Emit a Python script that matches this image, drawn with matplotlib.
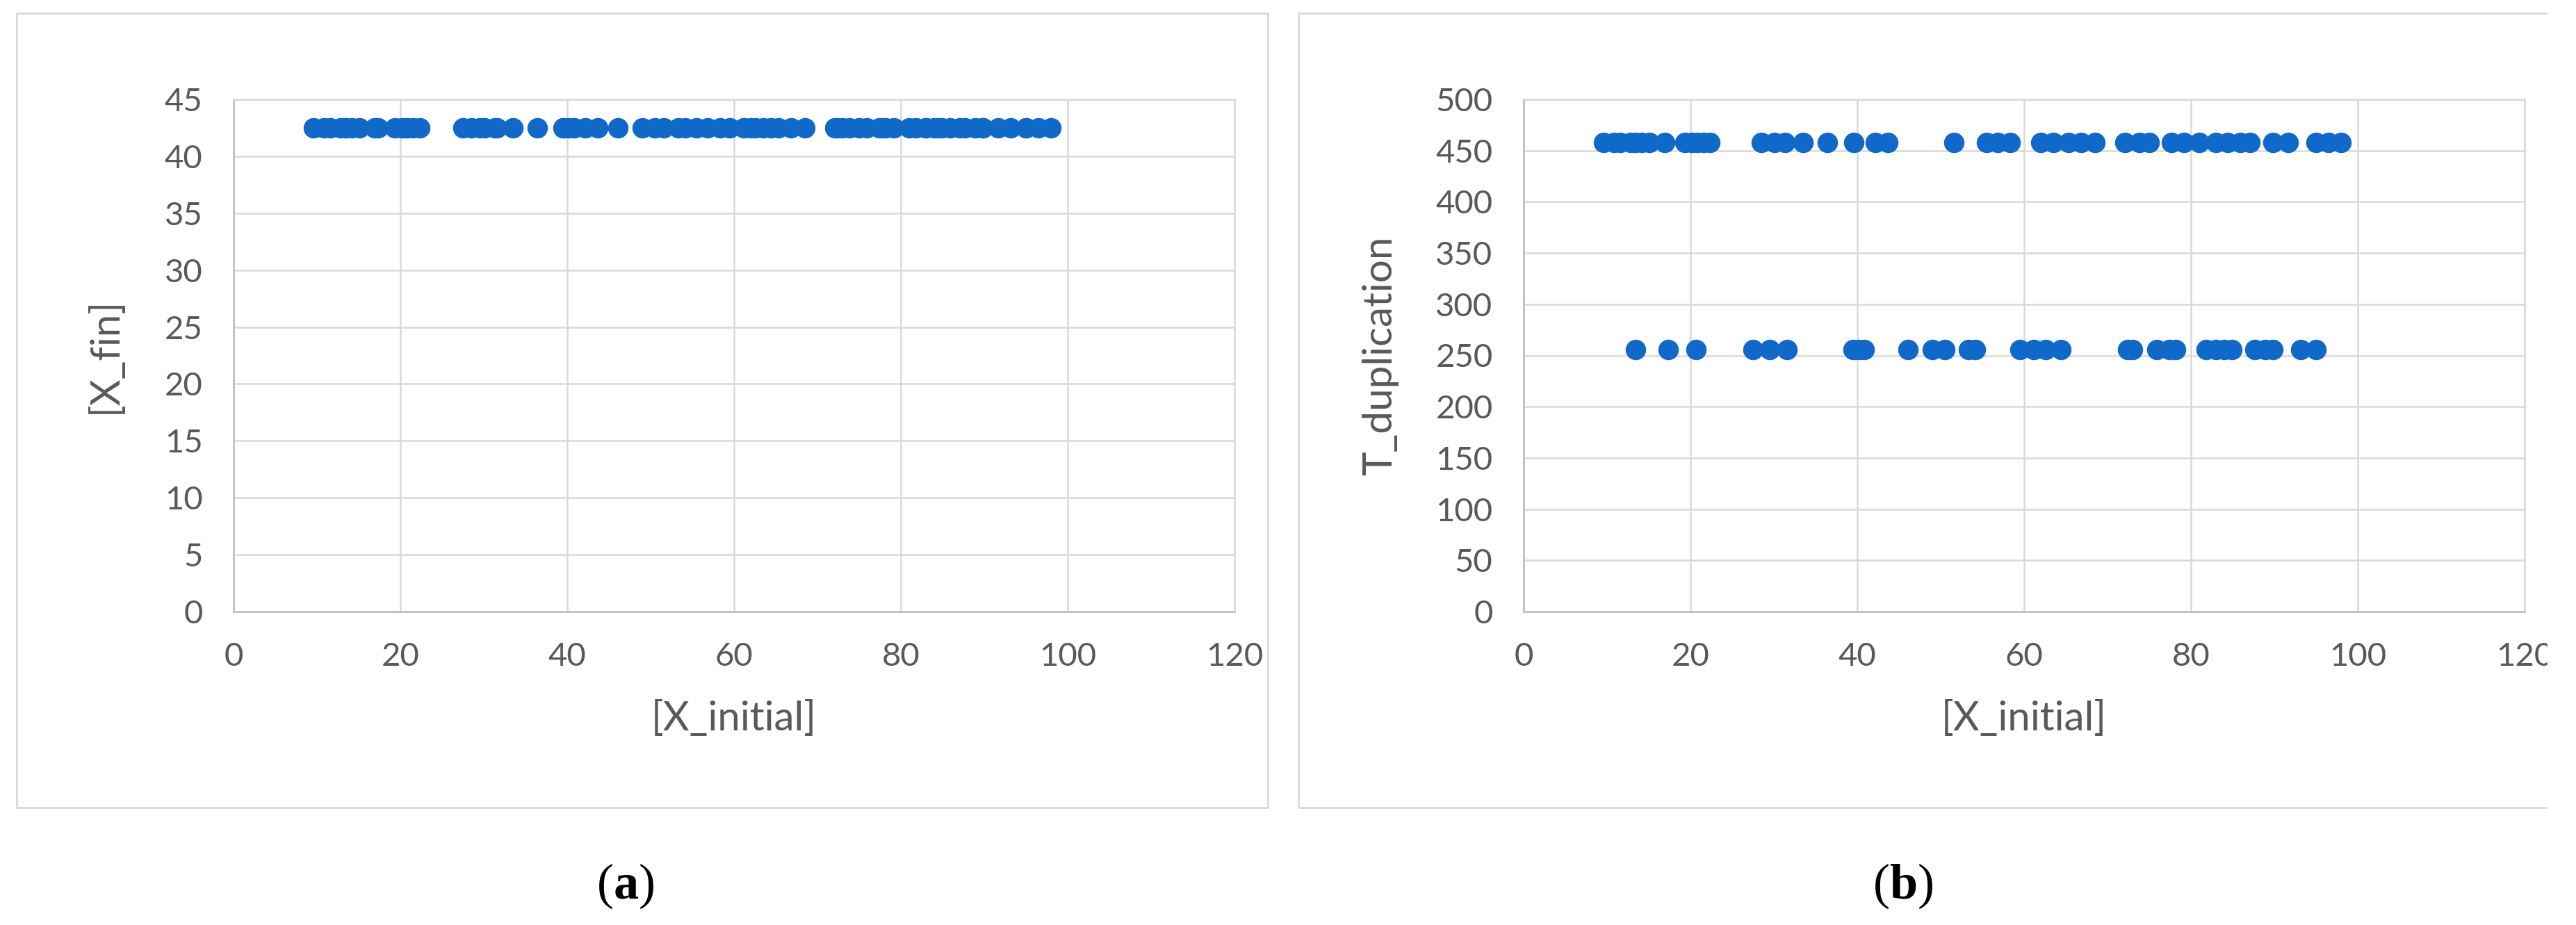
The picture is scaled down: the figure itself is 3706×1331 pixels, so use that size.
"""Two Excel-style scatter panels: (a) X_fin vs X_initial, (b) T_duplication vs X_initial."""
import numpy as np
import matplotlib
matplotlib.use("Agg")
import matplotlib.pyplot as plt
from matplotlib.patches import Rectangle

# values
x_init_t_high = [9.6, 10.8, 11.6, 12.8, 13.4, 14.2, 15.1, 16.9, 19.3, 20.2, 20.8, 21.6, 22.3,
                 28.5, 30.1, 31.3, 33.5, 36.4, 39.6, 42.2, 43.7, 51.6, 55.5, 56.8, 58.3,
                 62.0, 63.5, 65.3, 66.8, 68.5, 72.1, 73.8, 75.0, 77.7, 79.2, 81.0, 83.0,
                 84.4, 85.9, 87.1, 89.8, 91.7, 95.0, 96.5, 98.0]
x_init_t_low = [13.4, 17.3, 20.7, 27.5, 29.5, 31.6, 39.5, 40.2, 40.8, 46.1, 49.0, 50.5,
                53.3, 54.2, 59.5, 61.2, 62.6, 64.4, 72.4, 73.0, 75.9, 77.4, 78.2, 81.8,
                83.0, 84.0, 84.9, 87.7, 88.9, 89.8, 93.2, 95.0]
t_dup_high = 458
t_dup_low = 256
x_fin_level = 42.5

x_initial = sorted(x_init_t_high + x_init_t_low)
x_fin = [x_fin_level] * len(x_initial)

xticks = list(range(0, 121, 20))
yticks_a = list(range(0, 46, 5))
yticks_b = list(range(0, 501, 50))

BLUE = "#1068c8"
GRID = "#d9d9d9"
TXT = "#595959"

plt.rcParams["font.family"] = ["Lato", "DejaVu Sans"]
plt.rcParams["mathtext.fontset"] = "custom"
plt.rcParams["mathtext.rm"] = "Liberation Serif"
plt.rcParams["mathtext.bf"] = "Liberation Serif:bold"

W, H = 3706, 1331
fig = plt.figure(figsize=(W / 100, H / 100), dpi=100)

# panel frames
fig.patches.append(Rectangle((24 / W, 1 - 1162 / H), 1800 / W, 1143 / H, transform=fig.transFigure,
                             fill=False, ec=GRID, lw=2))
fig.patches.append(Rectangle((1868 / W, 1 - 1162 / H), 1900 / W, 1143 / H, transform=fig.transFigure,
                             fill=False, ec=GRID, lw=2))


def style(ax, yticks, ylabel, ylab_x):
    ax.set_xlim(0, 120); ax.set_ylim(yticks[0], yticks[-1])
    ax.set_xticks(xticks); ax.set_yticks(yticks)
    ax.grid(True, color=GRID, lw=1.8, zorder=0)
    ax.set_axisbelow(True)
    for s in ["top", "right"]:
        ax.spines[s].set_color(GRID); ax.spines[s].set_linewidth(1.8)
    for s in ["left", "bottom"]:
        ax.spines[s].set_color("#c4c4c4"); ax.spines[s].set_linewidth(2.2)
    ax.tick_params(axis="both", length=0, labelsize=34, labelcolor=TXT)
    ax.tick_params(axis="y", pad=32)
    ax.tick_params(axis="x", pad=32)
    ax.set_xlabel("[X_initial]", fontsize=42, color=TXT)
    ax.set_ylabel(ylabel, fontsize=42, color=TXT)
    ax.xaxis.set_label_coords(0.5, -0.174)
    ax.yaxis.set_label_coords(ylab_x, 0.5)


ax_a = fig.add_axes([336 / W, 1 - 880 / H, 1440 / W, 737 / H])
ax_a.scatter(x_initial, x_fin, s=450, color=BLUE, lw=0, zorder=3)
style(ax_a, yticks_a, "[X_fin]", -0.110)

ax_b = fig.add_axes([2192 / W, 1 - 880 / H, 1440 / W, 737 / H])
ax_b.scatter(x_init_t_high, [t_dup_high] * len(x_init_t_high), s=450, color=BLUE, lw=0, zorder=3)
ax_b.scatter(x_init_t_low, [t_dup_low] * len(x_init_t_low), s=450, color=BLUE, lw=0, zorder=3)
style(ax_b, yticks_b, "T_duplication", -0.125)

fig.text(900 / W, 1 - 1275 / H, r"$(\mathbf{a})$", fontsize=52, ha="center", va="center")
fig.text(2738 / W, 1 - 1275 / H, r"$(\mathbf{b})$", fontsize=52, ha="center", va="center")

# the source picture is cropped on the right
fig.patches.append(Rectangle((3665 / W, 0), 41 / W, 1, transform=fig.transFigure,
                             color="white", zorder=10))

fig.savefig("out.png", dpi=100, facecolor="white")
